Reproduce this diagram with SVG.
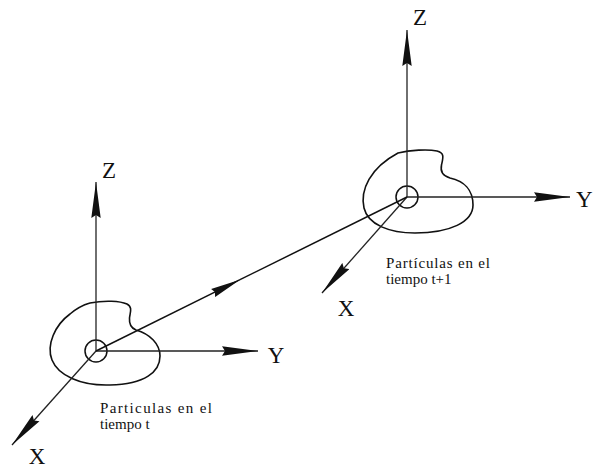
<svg xmlns="http://www.w3.org/2000/svg" width="594" height="468" viewBox="0 0 594 468">
<style>
.bg{fill:#ffffff}
.axis{stroke:#222;stroke-width:1.3;fill:none}
.blob{stroke:#111;stroke-width:1.6;fill:none}
.orig{stroke:#111;stroke-width:1.5;fill:none}
.traj{stroke:#111;stroke-width:1.5;fill:none}
.lbl{font-family:"Liberation Serif","Times New Roman",serif;font-size:23px;fill:#111}
.cap{font-family:"Liberation Serif","Times New Roman",serif;font-size:15px;fill:#111}
</style>
<defs>
<marker id="ah" markerUnits="userSpaceOnUse" viewBox="0 0 36 10" refX="36" refY="5" markerWidth="36" markerHeight="10" orient="auto">
<path d="M0,0.3 L36,5 L0,9.7 L3,5 Z" fill="#111"/>
</marker>
<marker id="ahm" markerUnits="userSpaceOnUse" viewBox="0 0 30 10" refX="30" refY="5" markerWidth="30" markerHeight="10" orient="auto">
<path d="M0,0.5 L30,5 L0,9.5 L2,5 Z" fill="#111"/>
</marker>
</defs>
<rect class="bg" x="0" y="0" width="594" height="468"/>
<g id="frame-t">
<path class="blob" d="M90,303 C105,300 120,301 127,304 C133,307 130,313 129.5,318 C129,324 131,328 136,330 C150,334 160,344 160,356 C160,372 145,384 110,385 C80,386 58,375 52,360 C46,345 55,325 70,314 C77,308 83,305 90,303 Z"/>
<circle class="orig" cx="96" cy="351" r="11"/>
<line class="axis" x1="96" y1="351" x2="96" y2="182" marker-end="url(#ah)"/>
<line class="axis" x1="96" y1="351" x2="258" y2="351" marker-end="url(#ah)"/>
<line class="axis" x1="96" y1="351" x2="12" y2="445" marker-end="url(#ah)"/>
<text class="lbl" x="109" y="178" text-anchor="middle">Z</text>
<text class="lbl" x="276" y="363" text-anchor="middle">Y</text>
<text class="lbl" x="37" y="464" text-anchor="middle">X</text>
<text class="cap" x="100" y="413" textLength="112" lengthAdjust="spacing">Particulas en el</text>
<text class="cap" x="100" y="429">tiempo t</text>
</g>
<g id="frame-t1">
<path class="blob" d="M398,153 C410,150 428,149 437,151 C445,153 443,158 441.5,165 C440,172 443,176 450,178 C464,181 473,190 473,205 C473,222 450,233 415,233 C390,233 368,225 364,208 C360,190 370,168 398,153 Z"/>
<circle class="orig" cx="407" cy="197" r="11"/>
<line class="axis" x1="407" y1="197" x2="407" y2="30" marker-end="url(#ah)"/>
<line class="axis" x1="407" y1="197" x2="570" y2="197" marker-end="url(#ah)"/>
<line class="axis" x1="407" y1="197" x2="322" y2="293" marker-end="url(#ah)"/>
<text class="lbl" x="420" y="25" text-anchor="middle">Z</text>
<text class="lbl" x="576" y="207">Y</text>
<text class="lbl" x="346" y="316" text-anchor="middle">X</text>
<text class="cap" x="386" y="268" textLength="104" lengthAdjust="spacing">Partículas en el</text>
<text class="cap" x="386" y="284">tiempo t+1</text>
</g>
<g id="connectors">
<line class="traj" x1="96" y1="351" x2="240" y2="279.7" marker-end="url(#ahm)"/>
<line class="traj" x1="240" y1="279.7" x2="407" y2="197"/>
</g>
</svg>
